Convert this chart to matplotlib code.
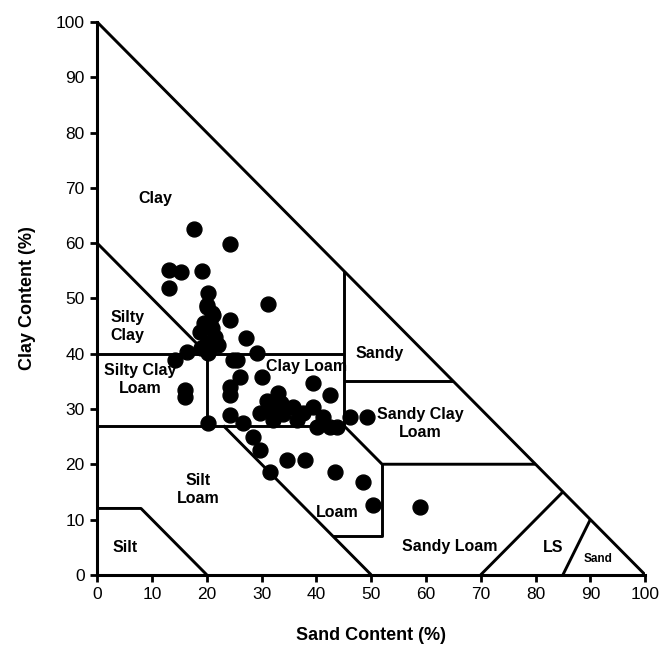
import numpy as np
import matplotlib
matplotlib.use('Agg')
import matplotlib.pyplot as plt

plt.rcParams['font.family'] = ['Liberation Sans', 'DejaVu Sans']

# sample points: sand %, clay %
sand = [17.7, 24.3, 13.1, 15.3, 19.2, 13.1, 20.3, 31.2, 20.1, 20.1,
        21.0, 21.2, 24.3, 18.8, 21.0, 27.2, 20.1, 14.2, 16.4, 20.3,
        25.5, 29.2, 26.1, 24.3, 30.1, 24.3, 33.0, 39.4, 42.5, 31.6,
        29.7, 35.8, 37.6, 32.1, 39.4, 41.2, 40.1, 42.5, 43.8, 46.2,
        49.3, 20.3, 24.3, 26.6, 28.5, 29.7, 31.6, 34.7, 38.0, 43.4,
        48.5, 50.4, 58.9, 16.1, 16.1, 19.5, 21.5, 19.0, 22.0, 20.5,
        33.5, 34.0, 31.0, 24.8, 36.5]
clay = [62.6, 59.9, 55.2, 54.8, 55.0, 51.9, 51.0, 49.0, 48.8, 48.5,
        47.4, 47.0, 46.1, 43.9, 44.7, 42.9, 42.0, 38.9, 40.3, 40.1,
        38.9, 40.1, 35.8, 34.0, 35.8, 32.5, 32.9, 34.7, 32.5, 29.8,
        29.3, 30.4, 29.3, 28.0, 30.4, 28.6, 26.8, 26.8, 26.8, 28.6,
        28.6, 27.5, 28.9, 27.5, 25.0, 22.6, 18.6, 20.8, 20.8, 18.6,
        16.8, 12.7, 12.3, 33.5, 32.2, 45.5, 43.0, 41.0, 41.5, 46.0,
        31.0, 29.0, 31.5, 38.9, 28.0]

# texture class boundaries (sand, clay)
boundaries = [
    [(0, 100), (100, 0)],
    [(0, 60), (20, 40)],
    [(0, 40), (45, 40)],
    [(0, 27), (45, 27)],
    [(20, 27), (20, 40)],
    [(45, 27), (45, 55)],
    [(45, 35), (65, 35)],
    [(45, 27), (52, 20), (80, 20)],
    [(23, 27), (50, 0)],
    [(43, 7), (52, 7), (52, 20)],
    [(0, 12), (8, 12), (20, 0)],
    [(70, 0), (85, 15)],
    [(85, 0), (90, 10)],
]

labels = [
    ('Clay', 10.6, 68, 11.5), ('Silty\nClay', 5.5, 45, 11.5),
    ('Silty Clay\nLoam', 7.8, 35.3, 11.5), ('Clay Loam', 38.3, 37.6, 11.5),
    ('Sandy', 51.6, 40.1, 11.5), ('Sandy Clay\nLoam', 59, 27.3, 11.5),
    ('Silt\nLoam', 18.5, 15.5, 11.5), ('Loam', 43.8, 11.2, 11.5),
    ('Sandy Loam', 64.4, 5.1, 11.5), ('LS', 83.2, 4.9, 11.5),
    ('Sand', 91.4, 2.9, 8.5), ('Silt', 5.1, 4.9, 11.5),
]

fig = plt.figure(figsize=(6.61, 6.48), dpi=100)
ax = fig.add_axes([0.147, 0.113, 0.829, 0.853])

for seg in boundaries:
    xs, ys = zip(*seg)
    ax.plot(xs, ys, color='black', lw=2.1, solid_capstyle='butt')

ax.scatter(sand, clay, s=115, color='black', zorder=3)

for txt, x, y, fs in labels:
    ax.text(x, y, txt, ha='center', va='center', fontsize=fs,
            fontweight='bold', linespacing=1.25)

ax.set_xlim(0, 100)
ax.set_ylim(0, 100)
ax.set_xticks(np.arange(0, 101, 10))
ax.set_yticks(np.arange(0, 101, 10))
ax.spines['top'].set_visible(False)
ax.spines['right'].set_visible(False)
ax.spines['left'].set_linewidth(2.2)
ax.spines['bottom'].set_linewidth(2.2)
ax.tick_params(width=2, length=5, labelsize=12.5, pad=4)
ax.set_xlabel('Sand Content (%)', fontsize=13, fontweight='bold', labelpad=18)
ax.set_ylabel('Clay Content (%)', fontsize=13, fontweight='bold', labelpad=14)

fig.savefig('out.png', dpi=100)
